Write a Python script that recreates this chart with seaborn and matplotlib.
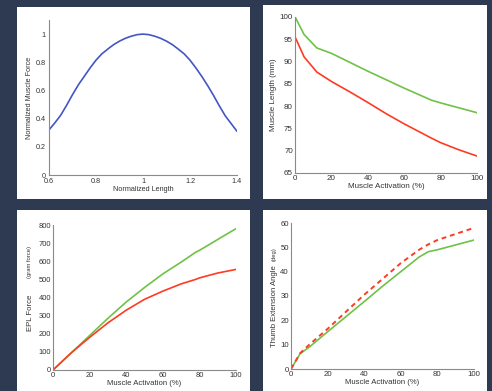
import numpy as np
import pandas as pd
import seaborn as sns
import matplotlib.pyplot as plt
from matplotlib.patches import Rectangle

# # DATA

# top left: force-length curve
norm_length = [0.6, 0.625, 0.65, 0.675, 0.7, 0.725, 0.75, 0.775, 0.8, 0.825, 0.855,
               0.875, 0.9, 0.925, 0.95, 0.975, 1.0,
               1.025, 1.05, 1.075, 1.1, 1.125, 1.145, 1.175, 1.2, 1.225, 1.25,
               1.275, 1.3, 1.325, 1.35, 1.375, 1.4]
norm_force = [0.32, 0.37, 0.425, 0.495, 0.57, 0.64, 0.70, 0.76, 0.815, 0.86, 0.9,
              0.925, 0.95, 0.97, 0.985, 0.996, 1.0,
              0.996, 0.985, 0.97, 0.95, 0.925, 0.9, 0.86, 0.815, 0.76, 0.70,
              0.635, 0.565, 0.49, 0.42, 0.365, 0.31]

# top right: muscle length vs activation
len_act = [0, 5, 12, 20, 30, 40, 50, 60, 75, 80, 90, 100]
len_green = [100, 96, 93.0, 91.8, 89.8, 87.8, 85.9, 84.0, 81.3, 80.7, 79.6, 78.5]
len_red = [95.5, 91, 87.6, 85.5, 83.2, 80.8, 78.3, 76.0, 72.8, 71.8, 70.2, 68.8]

# bottom left: EPL force vs activation
force_act = [0, 10, 20, 30, 40, 50, 60, 70, 78, 80, 90, 100]
force_green = [0, 95, 190, 285, 375, 455, 530, 595, 650, 660, 720, 780]
force_red = [0, 95, 180, 260, 330, 390, 435, 475, 500, 508, 535, 555]

# bottom right: thumb extension angle vs activation
angle_act = [0, 5, 10, 20, 30, 40, 50, 60, 70, 75, 80, 90, 100]
angle_green = [0, 6.3, 9.0, 15.3, 21.5, 27.7, 34.0, 40.0, 46.0, 48.2, 49.0, 51.0, 53.0]
angle_red = [0, 6.5, 10.0, 16.5, 23.5, 30.5, 37.0, 43.5, 49.0, 51.2, 53.0, 55.5, 58.0]

# # STYLE

sns.set_style("white")
plt.rcParams['font.family'] = ['Liberation Sans', 'DejaVu Sans']

W, H = 492, 391
navy = '#2e3a52'
blue = '#4256c4'
green = '#6fc246'
red = '#ff3a22'
axis_grey = '#8a8a8a'
text_col = '#333333'

fig = plt.figure(figsize=(W / 100, H / 100), dpi=100, facecolor=navy)


def px_rect(x0, y0, x1, y1):
    # pixel box (from top-left) -> figure fraction rect
    return [x0 / W, 1 - y1 / H, (x1 - x0) / W, (y1 - y0) / H]


# white panels, kept behind the axes
for x0, y0, x1, y1 in [(17, 7, 250, 199), (263, 5, 487, 199),
                       (17, 210, 250, 391), (263, 210, 487, 391)]:
    r = px_rect(x0, y0, x1, y1)
    fig.patches.append(Rectangle((r[0], r[1]), r[2], r[3], transform=fig.transFigure,
                                 facecolor='white', edgecolor='none', zorder=-10))


def style_axes(ax, fs):
    ax.set_facecolor('none')
    for s in ['top', 'right']:
        ax.spines[s].set_visible(False)
    for s in ['left', 'bottom']:
        ax.spines[s].set_color(axis_grey)
        ax.spines[s].set_linewidth(0.8)
    ax.tick_params(direction='in', length=2, width=0.6, color=axis_grey,
                   labelsize=fs, labelcolor=text_col, pad=1.5)


# # TOP LEFT
ax1 = fig.add_axes(px_rect(49, 20, 237, 175))
sns.lineplot(x=norm_length, y=norm_force, ax=ax1, color=blue, lw=1.2,
             estimator=None, sort=False)
ax1.set_xlim(0.6, 1.4)
ax1.set_ylim(0, 1.1)
ax1.set_xticks([0.6, 0.8, 1.0, 1.2, 1.4], ['0.6', '0.8', '1', '1.2', '1.4'])
ax1.set_yticks([0, 0.2, 0.4, 0.6, 0.8, 1.0], ['0', '0.2', '0.4', '0.6', '0.8', '1'])
style_axes(ax1, 5.2)
ax1.tick_params(axis='y', pad=2.5)
ax1.tick_params(axis='x', pad=2.2)
ax1.set_xlabel('Normalized Length', fontsize=5.2, color=text_col, labelpad=1)
ax1.set_ylabel('Normalized Muscle Force', fontsize=5.2, color=text_col, labelpad=2)

# # TOP RIGHT
ax2 = fig.add_axes(px_rect(295, 16.7, 477, 173))
sns.lineplot(x=len_act, y=len_green, ax=ax2, color=green, lw=1.2, estimator=None, sort=False)
sns.lineplot(x=len_act, y=len_red, ax=ax2, color=red, lw=1.2, estimator=None, sort=False)
ax2.set_xlim(0, 100)
ax2.set_ylim(65, 100)
ax2.set_xticks(range(0, 101, 20))
ax2.set_yticks(range(65, 101, 5))
style_axes(ax2, 5.8)
ax2.set_xlabel('Muscle Activation (%)', fontsize=5.8, color=text_col, labelpad=1)
ax2.set_ylabel('Muscle Length (mm)', fontsize=5.8, color=text_col, labelpad=2)

# # BOTTOM LEFT
ax3 = fig.add_axes(px_rect(53, 225, 236, 370))
sns.lineplot(x=force_act, y=force_green, ax=ax3, color=green, lw=1.2, estimator=None, sort=False)
sns.lineplot(x=force_act, y=force_red, ax=ax3, color=red, lw=1.2, estimator=None, sort=False)
ax3.set_xlim(0, 100)
ax3.set_ylim(0, 800)
ax3.set_xticks(range(0, 101, 20))
ax3.set_yticks(range(0, 801, 100))
style_axes(ax3, 5.4)
ax3.set_xlabel('Muscle Activation (%)', fontsize=5.6, color=text_col, labelpad=1)
fig.text(30 / W, 1 - 313 / H, 'EPL Force', rotation=90, fontsize=5.6,
         color=text_col, ha='center', va='center')
fig.text(30 / W, 1 - 262 / H, '(gram force)', rotation=90, fontsize=4.2,
         color=text_col, ha='center', va='center')

# # BOTTOM RIGHT
ax4 = fig.add_axes(px_rect(291, 223, 474, 369))
sns.lineplot(x=angle_act, y=angle_green, ax=ax4, color=green, lw=1.2, estimator=None, sort=False)
sns.lineplot(x=angle_act, y=angle_red, ax=ax4, color=red, lw=1.4, estimator=None, sort=False,
             linestyle=(0, (2.5, 2)))
ax4.set_xlim(0, 100)
ax4.set_ylim(0, 60)
ax4.set_xticks(range(0, 101, 20))
ax4.set_yticks(range(0, 61, 10))
style_axes(ax4, 5.6)
ax4.set_xlabel('Muscle Activation (%)', fontsize=5.6, color=text_col, labelpad=1)
fig.text(274 / W, 1 - 306 / H, 'Thumb Extension Angle', rotation=90, fontsize=5.6,
         color=text_col, ha='center', va='center')
fig.text(274 / W, 1 - 254 / H, '(deg)', rotation=90, fontsize=4.2,
         color=text_col, ha='center', va='center')

plt.savefig('out.png', dpi=100, facecolor=navy)
plt.close()
